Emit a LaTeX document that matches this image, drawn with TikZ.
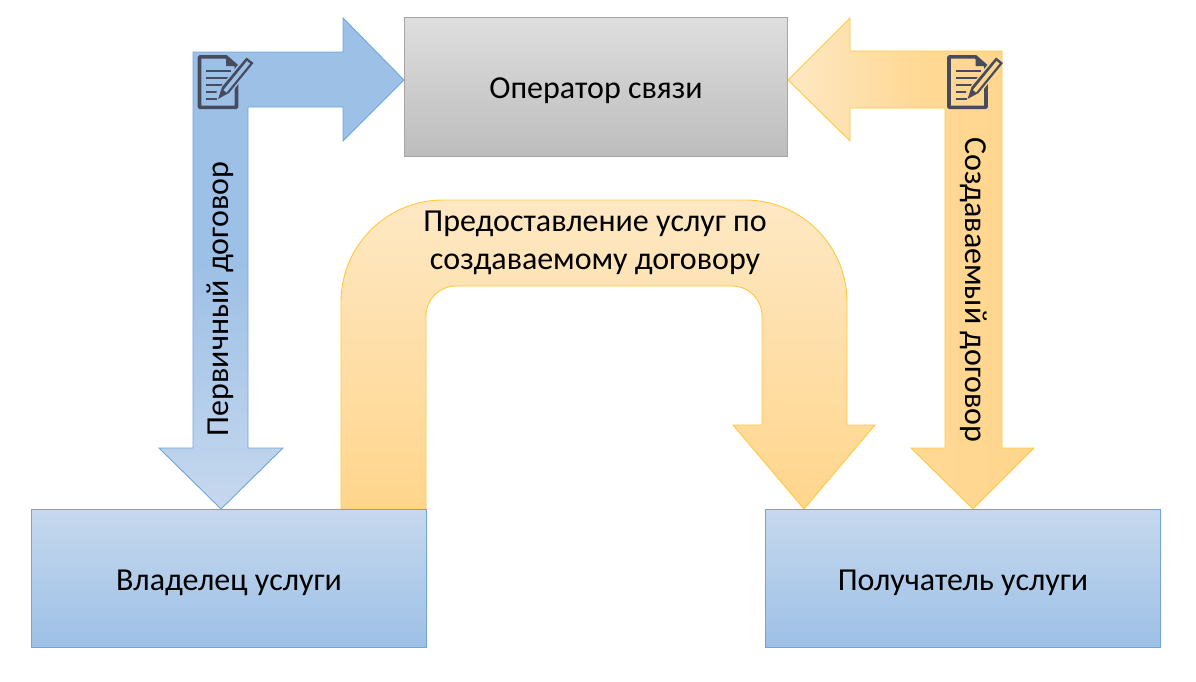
\documentclass[tikz,border=0pt]{standalone}
\usepackage{fontspec}
\setmainfont{Carlito}
\definecolor{bluetop}{HTML}{9DC0E6}
\definecolor{bluelow}{HTML}{C6D8EE}
\definecolor{blueline}{HTML}{6FA5DC}
\definecolor{orlight}{HTML}{FEE8C4}
\definecolor{ordeep}{HTML}{FFD58B}
\definecolor{orline}{HTML}{FFC93C}
\definecolor{icondark}{HTML}{464B5E}
\newcommand{\lowertext}[1]{\raisebox{-4pt}[\height][\depth]{#1}}
\tikzset{
  boxnode/.style={draw=#1,line width=0.9pt,minimum height=138.5pt,inner sep=0pt,font=\fontsize{32}{38}\selectfont},
  bluebox/.style={boxnode=blueline,minimum width=395pt,top color=bluelow,bottom color=bluetop,middle color=bluelow!50!bluetop},
  graybox/.style={boxnode=black!35,minimum width=383.5pt,top color=black!13,bottom color=black!26},
  blockblue/.style={draw=blueline,line width=0.9pt,line join=miter},
  blockorange/.style={draw=orline,line width=0.9pt,line join=miter},
  arrowtext/.style={font=\fontsize{32}{38.5}\selectfont,inner sep=0pt,align=center},
  iconline/.style={draw=icondark,line width=1.3pt}
}
\newcommand{\docicon}[3]{%
  \begin{scope}[shift={(#1,#2)}]
    \draw[icondark,line width=3.6pt,line join=round] (199.5,56.8) -- (226,56.8) -- (236.5,66) -- (236.5,107.3) -- (199.5,107.3) -- cycle;
    \fill[icondark] (226,56) -- (236.5,66) -- (226,66) -- cycle;
    \foreach \yy/\xe in {71/231,78/231,85/226,92/221,99/217}
      \draw[iconline] (206,\yy) -- (\xe,\yy);
    \draw[#3,line width=12pt] (221,96) -- (248,62);
    \fill[icondark,line join=round] (218,99) -- (222,87) -- (246.5,57.5) -- (253.5,63) -- (229,93) -- cycle;
    \fill[#3] (223.5,90) -- (247,61) -- (250,63.5) -- (226.5,92.5) -- cycle;
  \end{scope}}
\begin{document}
\begin{tikzpicture}[x=1pt,y=-1pt]
\useasboundingbox (0,0) rectangle (1196,681);
% block arrows
\path[blockblue,top color=bluetop,bottom color=bluelow,middle color=bluetop,shading angle=0]
  (221,509) -- (283,448) -- (248,448) -- (248,107) -- (343,107) -- (343,141) -- (404,80)
  -- (343,18) -- (343,52) -- (193,52) -- (193,448) -- (159,448) -- cycle;
\path[blockorange,left color=orlight,right color=ordeep,middle color=ordeep!80!orlight]
  (788,80) -- (850,18) -- (850,51) -- (1002,51) -- (1002,448) -- (1034,448) -- (973,509)
  -- (911,448) -- (945,448) -- (945,108) -- (850,108) -- (850,141) -- cycle;
\path[blockorange,top color=orlight,bottom color=ordeep]
  (341,509) -- (341,302) arc[start angle=180,end angle=270,radius=102] -- (745,200)
  arc[start angle=270,end angle=360,radius=102] -- (847,425) -- (875,425) -- (804,509)
  -- (733,425) -- (762,425) -- (762,316) arc[start angle=0,end angle=-90,radius=30]
  -- (456,286) arc[start angle=-90,end angle=-180,radius=30] -- (426,509) -- cycle;
% boxes
\node[graybox] (operator) at (596,87) {\lowertext{Оператор связи}};
\node[bluebox] (owner) at (229,578.5) {\lowertext{Владелец услуги}};
\node[bluebox] (receiver) at (963,578.5) {\lowertext{Получатель услуги}};
% texts on arrows
\node[arrowtext,rotate=90] (first) at (220,299) {Первичный договор};
\node[arrowtext,rotate=-90] (created) at (974,290) {Создаваемый договор};
\node[arrowtext] (service) at (595,243) {Предоставление услуг по\\создаваемому договору};
% icons
\docicon{0}{0}{bluetop}
\docicon{749.5}{0}{ordeep}
\end{tikzpicture}
\end{document}
